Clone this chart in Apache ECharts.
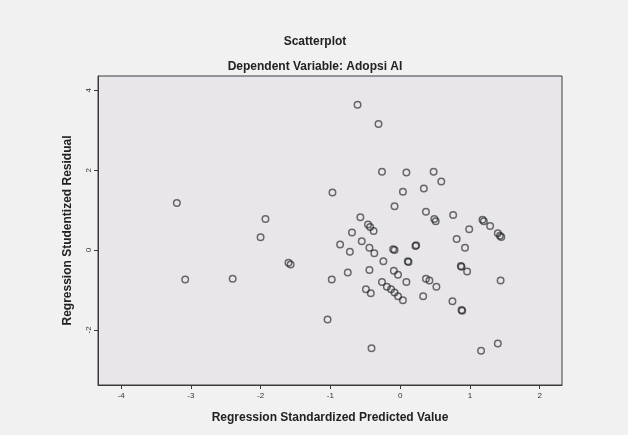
<!DOCTYPE html>
<html>
<head>
<meta charset="utf-8">
<script src="https://cdn.jsdelivr.net/npm/echarts@6/dist/echarts.min.js"></script>
<style>
html,body{margin:0;padding:0;background:#f1f1f1;}
#chart{width:628px;height:435px;}
</style>
</head>
<body>
<div id="chart"></div>
<script>
const titleText = "Scatterplot";
const subtitleText = "Dependent Variable: Adopsi AI";
const xAxisName = "Regression Standardized Predicted Value";
const yAxisName = "Regression Studentized Residual";
const xTicks = [-4, -3, -2, -1, 0, 1, 2];
const yTicks = [-2, 0, 2, 4];

const predicted = [
  -3.20, -1.93, -2.00, -0.97, -0.61, -0.31, -0.26, 0.09, 0.48, 0.59,
  0.04, 0.34, -0.08, 0.37, 0.49, 0.51, 0.76, -0.57, -0.46, -0.43,
  -0.38, -0.69, -0.55, 0.99, 1.18, 1.20, 1.29, 1.40, 1.43, 0.81,
  -0.86, -3.08, -2.40, -1.60, -1.57, -0.98, -1.04, -0.72, -0.44, -0.37,
  -0.10, -0.08, 0.22, 0.93, -0.24, 0.11, -0.75, -0.44, -0.09, -0.03,
  0.87, 0.96, -0.26, -0.19, -0.13, 0.09, 0.37, 0.42, 0.52, 1.44,
  -0.49, -0.42, -0.08, -0.03, 0.04, 0.33, 0.75, 0.88, -0.41, 1.16,
  1.40, 0.12, 0.88, 0.89, 0.23, 1.45
];
const residual = [
  1.18, 0.78, 0.32, 1.44, 3.64, 3.16, 1.96, 1.94, 1.96, 1.72,
  1.46, 1.54, 1.10, 0.96, 0.78, 0.72, 0.88, 0.82, 0.64, 0.58,
  0.48, 0.44, 0.22, 0.52, 0.76, 0.72, 0.60, 0.42, 0.36, 0.28,
  0.14, -0.74, -0.72, -0.32, -0.36, -0.74, -1.74, -0.04, 0.06, -0.08,
  0.02, 0.00, 0.10, 0.06, -0.28, -0.28, -0.56, -0.50, -0.52, -0.62,
  -0.40, -0.54, -0.80, -0.92, -0.98, -0.80, -0.72, -0.76, -0.92, -0.76,
  -0.98, -1.08, -1.06, -1.16, -1.26, -1.16, -1.28, -1.50, -2.46, -2.52,
  -2.34, -0.30, -0.42, -1.52, 0.12, 0.33
];

const points = predicted.map((x, i) => [x, residual[i]]);

const chart = echarts.init(document.getElementById('chart'), null, {renderer: 'canvas'});
const labelFont = 'Liberation Sans, Arial, sans-serif';
chart.setOption({
  backgroundColor: '#f1f1f1',
  animation: false,
  title: [
    {text: titleText, left: 310, top: 31, textAlign: 'center',
     textStyle: {fontFamily: labelFont, fontSize: 12, fontWeight: 'bold', color: '#222'}},
    {text: subtitleText, left: 310, top: 56, textAlign: 'center',
     textStyle: {fontFamily: labelFont, fontSize: 12, fontWeight: 'bold', color: '#222'}}
  ],
  grid: {left: 98, right: 66, top: 76, bottom: 50, show: true,
         backgroundColor: '#e8e6ea', borderColor: '#3a3a3a', borderWidth: 1},
  xAxis: {
    type: 'value', min: -4.33, max: 2.32,
    name: xAxisName, nameLocation: 'middle', nameGap: 27,
    nameTextStyle: {fontFamily: labelFont, fontSize: 12, fontWeight: 'bold', color: '#222'},
    axisLine: {show: true, onZero: false, lineStyle: {color: '#3a3a3a'}},
    axisTick: {show: true, length: 4, lineStyle: {color: '#3a3a3a'}, customValues: xTicks},
    axisLabel: {fontFamily: labelFont, fontSize: 8, color: '#333', margin: 7, customValues: xTicks},
    splitLine: {show: false}
  },
  yAxis: {
    type: 'value', min: -3.38, max: 4.36,
    name: yAxisName, nameLocation: 'middle', nameGap: 24,
    nameTextStyle: {fontFamily: labelFont, fontSize: 12, fontWeight: 'bold', color: '#222'},
    axisLine: {show: true, onZero: false, lineStyle: {color: '#3a3a3a'}},
    axisTick: {show: true, length: 4, lineStyle: {color: '#3a3a3a'}, customValues: yTicks},
    axisLabel: {fontFamily: labelFont, fontSize: 8, color: '#333', margin: 5, rotate: 90, customValues: yTicks},
    splitLine: {show: false}
  },
  series: [{
    type: 'scatter',
    data: points,
    symbol: 'circle',
    symbolSize: 6.5,
    itemStyle: {color: 'rgba(0,0,0,0)', borderColor: 'rgba(30,30,30,0.8)', borderWidth: 1.5}
  }]
});
</script>
</body>
</html>
